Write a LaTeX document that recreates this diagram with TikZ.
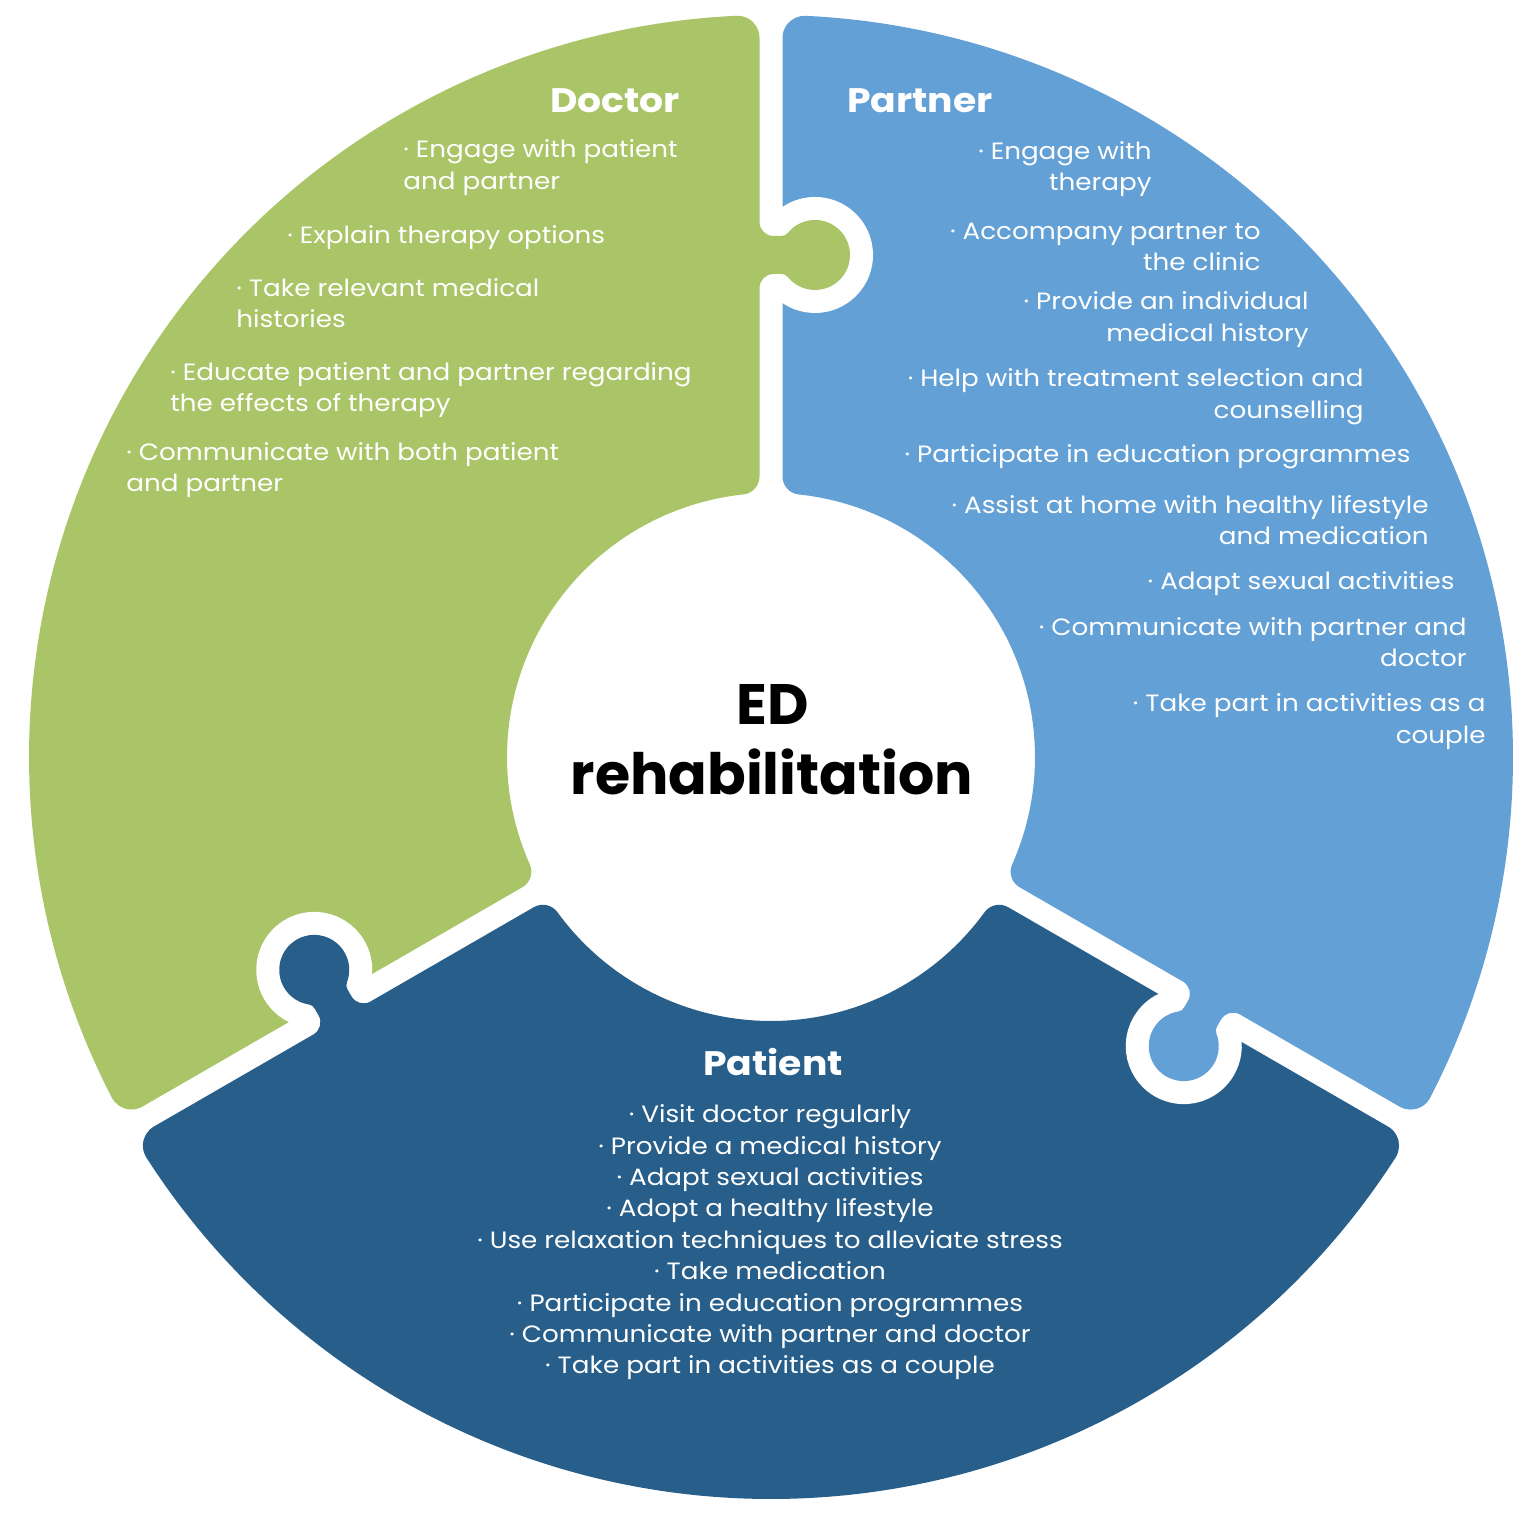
\documentclass[tikz,border=0pt]{standalone}
\usepackage{fontspec}
\setmainfont{Poppins}[FakeStretch=1.11]
\newfontfamily\ctrfont{Poppins}
\definecolor{docg}{HTML}{A9C567}
\definecolor{parb}{HTML}{63A0D5}
\definecolor{patb}{HTML}{285E8A}
% piece geometry
\edef\pCoy{\fpeval{round(sqrt((742-22)^2-(11.5+22)^2),4)}}
\edef\pTho{\fpeval{round(atand(\pCoy,-33.5),4)}}
\edef\pCiy{\fpeval{round(sqrt((264+18)^2-(11.5+18)^2),4)}}
\edef\pThi{\fpeval{round(atand(\pCiy,-29.5),4)}}
\edef\pThoB{\fpeval{300-\pTho}}
\edef\pThiB{\fpeval{300-\pThi}}
\edef\pThiC{\fpeval{\pThi+180}}
\edef\pThiD{\fpeval{480-\pThi}}
\edef\pPx{\fpeval{round(282*cosd(\pThiB)+18*cosd(300),4)}}
\edef\pPy{\fpeval{round(282*sind(\pThiB)+18*sind(300),4)}}
% tab geometry
\def\tW{19}\def\tF{14}\def\tC{44}\def\tR{35}\def\tG{8}
\edef\tFu{\fpeval{round(\tC-sqrt((\tR+\tG)^2-(\tW+\tG)^2),4)}}
\edef\tA{\fpeval{round(atand(\tW+\tG,\tFu-\tC),4)}}
\edef\tAm{\fpeval{\tA-180}}
\edef\tAc{\fpeval{180-\tA}}
\edef\tS{\fpeval{\tW+\tF}}
\edef\tN{\fpeval{-11.5+\tF}}
\newcommand\mypiece[2]{%
\begin{scope}[rotate=#1]
\fill[#2] (-11.5,\pCiy) -- (-11.5,\pCoy)
  arc[start angle=0,end angle=\pTho,radius=22]
  arc[start angle=\pTho,end angle=\pThoB,radius=742]
  arc[start angle=\pThoB,end angle=300,radius=22]
  -- (\pPx,\pPy)
  arc[start angle=300,end angle=\pThiD,radius=18]
  arc[start angle=\pThiB,end angle=\pThi,radius=264]
  arc[start angle=\pThiC,end angle=360,radius=18]
  -- cycle;
\end{scope}}
\newcommand\mytabpath{(-11.5,\tS) arc[start angle=180,end angle=270,radius=\tF]
  -- (\tFu,\tW) arc[start angle=-90,end angle=\tAm,radius=\tG]
  arc[start angle=\tA,end angle=-\tA,radius=\tR]
  arc[start angle=\tAc,end angle=90,radius=\tG]
  -- (\tN,-\tW) arc[start angle=90,end angle=180,radius=\tF]}
\newcommand\mytab[2]{%
\begin{scope}[rotate=#1]
\begin{scope}[shift={(0,502)}]
\draw[white,line width=23pt] \mytabpath;
\fill[#2] \mytabpath -- (-45,-\tS) -- (-45,\tS) -- cycle;
\end{scope}
\end{scope}}
\tikzset{
  body/.style={text=white,font=\fontsize{11.8}{14}\selectfont,inner sep=0pt},
  ttl/.style={text=white,font=\fontsize{17}{20}\selectfont\bfseries,inner sep=0pt},
  ctr/.style={text=black,font=\ctrfont\fontsize{28.5}{34}\selectfont\bfseries,inner sep=0pt}
}
\begin{document}
\begin{tikzpicture}[x=0.5pt,y=0.5pt]
\fill[white] (-771,-756) rectangle (765,757);
\useasboundingbox (-771,-756) rectangle (765,757);
\mypiece{0}{docg}
\mypiece{-120}{parb}
\mypiece{120}{patb}
\mytab{0}{docg}
\mytab{-120}{parb}
\mytab{120}{patb}
% centre
\node[ctr,anchor=base] (c1) at (2,32) {ED};
\node[ctr,anchor=base] (c2) at (1,-38) {rehabilitation};
% titles
\node[ttl,anchor=base] (tdoc) at (-156,644) {Doctor};
\node[ttl,anchor=base] (tpar) at (149,644) {Partner};
\node[ttl,anchor=base] (tpat) at (2,-319) {Patient};
% doctor items
\node[body,anchor=base west] (d1a) at (-368,599) {· Engage with patient};
\node[body,anchor=base west] (d1b) at (-368,567) {and partner};
\node[body,anchor=base west] (d2a) at (-484,513) {· Explain therapy options};
\node[body,anchor=base west] (d3a) at (-535,460) {· Take relevant medical};
\node[body,anchor=base west] (d3b) at (-535,429) {histories};
\node[body,anchor=base west] (d4a) at (-601,376) {· Educate patient and partner regarding};
\node[body,anchor=base west] (d4b) at (-601,345) {the effects of therapy};
\node[body,anchor=base west] (d5a) at (-645,296) {· Communicate with both patient};
\node[body,anchor=base west] (d5b) at (-645,265) {and partner};
% partner items
\node[body,anchor=base east] (p1a) at (381,597) {· Engage with};
\node[body,anchor=base east] (p1b) at (381,566) {therapy};
\node[body,anchor=base east] (p2a) at (490,517) {· Accompany partner to};
\node[body,anchor=base east] (p2b) at (490,486) {the clinic};
\node[body,anchor=base east] (p3a) at (538,447) {· Provide an individual};
\node[body,anchor=base east] (p3b) at (538,415) {medical history};
\node[body,anchor=base east] (p4a) at (593,370) {· Help with treatment selection and};
\node[body,anchor=base east] (p4b) at (593,338) {counselling};
\node[body,anchor=base east] (p5a) at (640,294) {· Participate in education programmes};
\node[body,anchor=base east] (p6a) at (658,243) {· Assist at home with healthy lifestyle};
\node[body,anchor=base east] (p6b) at (658,212) {and medication};
\node[body,anchor=base east] (p7a) at (684,167) {· Adapt sexual activities};
\node[body,anchor=base east] (p8a) at (696,121) {· Communicate with partner and};
\node[body,anchor=base east] (p8b) at (696,90) {doctor};
\node[body,anchor=base east] (p9a) at (715,45) {· Take part in activities as a};
\node[body,anchor=base east] (p9b) at (715,13) {couple};
% patient items
\node[body,anchor=base] (q1) at (-1,-366) {· Visit doctor regularly};
\node[body,anchor=base] (q2) at (-1,-398) {· Provide a medical history};
\node[body,anchor=base] (q3) at (-1,-429) {· Adapt sexual activities};
\node[body,anchor=base] (q4) at (-1,-460) {· Adopt a healthy lifestyle};
\node[body,anchor=base] (q5) at (-1,-492) {· Use relaxation techniques to alleviate stress};
\node[body,anchor=base] (q6) at (-1,-523) {· Take medication};
\node[body,anchor=base] (q7) at (-1,-554) {· Participate in education programmes};
\node[body,anchor=base] (q8) at (-1,-585) {· Communicate with partner and doctor};
\node[body,anchor=base] (q9) at (-1,-616) {· Take part in activities as a couple};
\end{tikzpicture}
\end{document}
